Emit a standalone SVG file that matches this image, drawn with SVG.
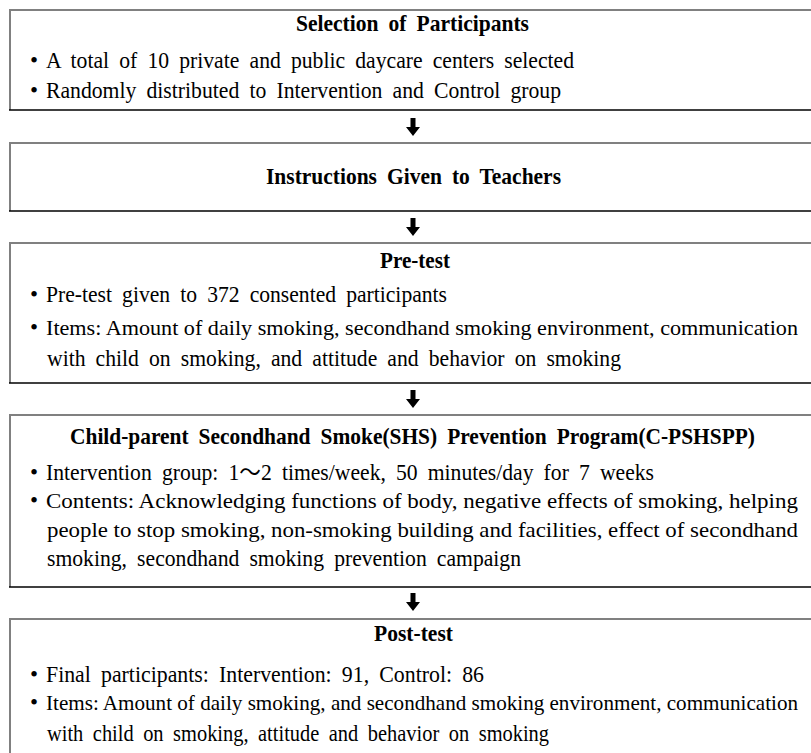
<svg xmlns="http://www.w3.org/2000/svg" width="811" height="753" viewBox="0 0 811 753">
<style>
.bg{fill:#ffffff}
.gl{stroke:#808080;stroke-width:2;fill:none}
.bl{stroke:#000000;stroke-width:1.6;fill:none}
text{font-family:"Liberation Serif","Tinos","Times New Roman","Noto Sans CJK KR",serif;font-size:23px;word-spacing:5px;fill:#000}
.t{font-weight:bold}
.j{font-size:22px;word-spacing:0}
.j2{font-size:21px;word-spacing:0}
.ar{fill:#000}
</style>
<defs>
<path id="arrow" d="M-2.5,0 H2.5 V9 H7 L0,18 L-7,9 H-2.5 Z"/>
</defs>
<rect x="0" y="0" width="811" height="753" class="bg"/>

<g id="node-selection">
<rect x="10" y="9" width="801" height="101" class="bg"/>
<line x1="9" y1="10" x2="811" y2="10" class="gl"/>
<line x1="10" y1="9" x2="10" y2="110" class="gl"/>
<line x1="9" y1="110" x2="811" y2="110" class="bl"/>
<text class="t" x="296" y="31" textLength="233" lengthAdjust="spacingAndGlyphs">Selection of Participants</text>
<text x="30" y="68">•</text>
<text x="46" y="68" textLength="528" lengthAdjust="spacingAndGlyphs">A total of 10 private and public daycare centers selected</text>
<text x="30" y="98">•</text>
<text x="46" y="98" textLength="515" lengthAdjust="spacingAndGlyphs">Randomly distributed to Intervention and Control group</text>
</g>

<g id="node-instructions">
<rect x="10" y="142" width="801" height="69" class="bg"/>
<line x1="9" y1="143" x2="811" y2="143" class="gl"/>
<line x1="10" y1="142" x2="10" y2="211" class="gl"/>
<line x1="9" y1="211" x2="811" y2="211" class="bl"/>
<text class="t" x="266" y="184" textLength="295" lengthAdjust="spacingAndGlyphs">Instructions Given to Teachers</text>
</g>

<g id="node-pretest">
<rect x="10" y="242" width="801" height="141" class="bg"/>
<line x1="9" y1="243" x2="811" y2="243" class="gl"/>
<line x1="10" y1="242" x2="10" y2="383" class="gl"/>
<line x1="9" y1="383" x2="811" y2="383" class="bl"/>
<text class="t" x="380" y="268" textLength="70" lengthAdjust="spacingAndGlyphs">Pre-test</text>
<text x="30" y="302">•</text>
<text x="46" y="302" textLength="401" lengthAdjust="spacingAndGlyphs">Pre-test given to 372 consented participants</text>
<text x="30" y="335">•</text>
<text class="j" x="46" y="335" textLength="752" lengthAdjust="spacingAndGlyphs">Items: Amount of daily smoking, secondhand smoking environment, communication</text>
<text x="47" y="366" textLength="574" lengthAdjust="spacingAndGlyphs">with child on smoking, and attitude and behavior on smoking</text>
</g>

<g id="node-program">
<rect x="10" y="414" width="801" height="173" class="bg"/>
<line x1="9" y1="415" x2="811" y2="415" class="gl"/>
<line x1="10" y1="414" x2="10" y2="587" class="gl"/>
<line x1="9" y1="587" x2="811" y2="587" class="bl"/>
<text class="t" x="70" y="444" textLength="685" lengthAdjust="spacingAndGlyphs">Child-parent Secondhand Smoke(SHS) Prevention Program(C-PSHSPP)</text>
<text x="30" y="480">•</text>
<text x="46" y="480" textLength="608" lengthAdjust="spacingAndGlyphs">Intervention group: 1～2 times/week, 50 minutes/day for 7 weeks</text>
<text x="30" y="508">•</text>
<text class="j" x="46" y="508" textLength="752" lengthAdjust="spacingAndGlyphs">Contents: Acknowledging functions of body, negative effects of smoking, helping</text>
<text class="j" x="47" y="537" textLength="751" lengthAdjust="spacingAndGlyphs">people to stop smoking, non-smoking building and facilities, effect of secondhand</text>
<text x="47" y="566" textLength="474" lengthAdjust="spacingAndGlyphs">smoking, secondhand smoking prevention campaign</text>
</g>

<g id="node-posttest">
<rect x="10" y="618" width="801" height="135" class="bg"/>
<line x1="9" y1="619" x2="811" y2="619" class="gl"/>
<line x1="10" y1="618" x2="10" y2="753" class="gl"/>
<text class="t" x="374" y="641" textLength="79" lengthAdjust="spacingAndGlyphs">Post-test</text>
<text x="30" y="682">•</text>
<text x="46" y="682" textLength="438" lengthAdjust="spacingAndGlyphs">Final participants: Intervention: 91, Control: 86</text>
<text x="30" y="710">•</text>
<text class="j2" x="46" y="710" textLength="752" lengthAdjust="spacingAndGlyphs">Items: Amount of daily smoking, and secondhand smoking environment, communication</text>
<text x="47" y="741" textLength="502" lengthAdjust="spacingAndGlyphs">with child on smoking, attitude and behavior on smoking</text>
</g>

<g id="connectors" class="ar">
<use href="#arrow" x="413" y="118"/>
<use href="#arrow" x="413" y="218"/>
<use href="#arrow" x="413" y="390"/>
<use href="#arrow" x="413" y="593"/>
</g>
</svg>
